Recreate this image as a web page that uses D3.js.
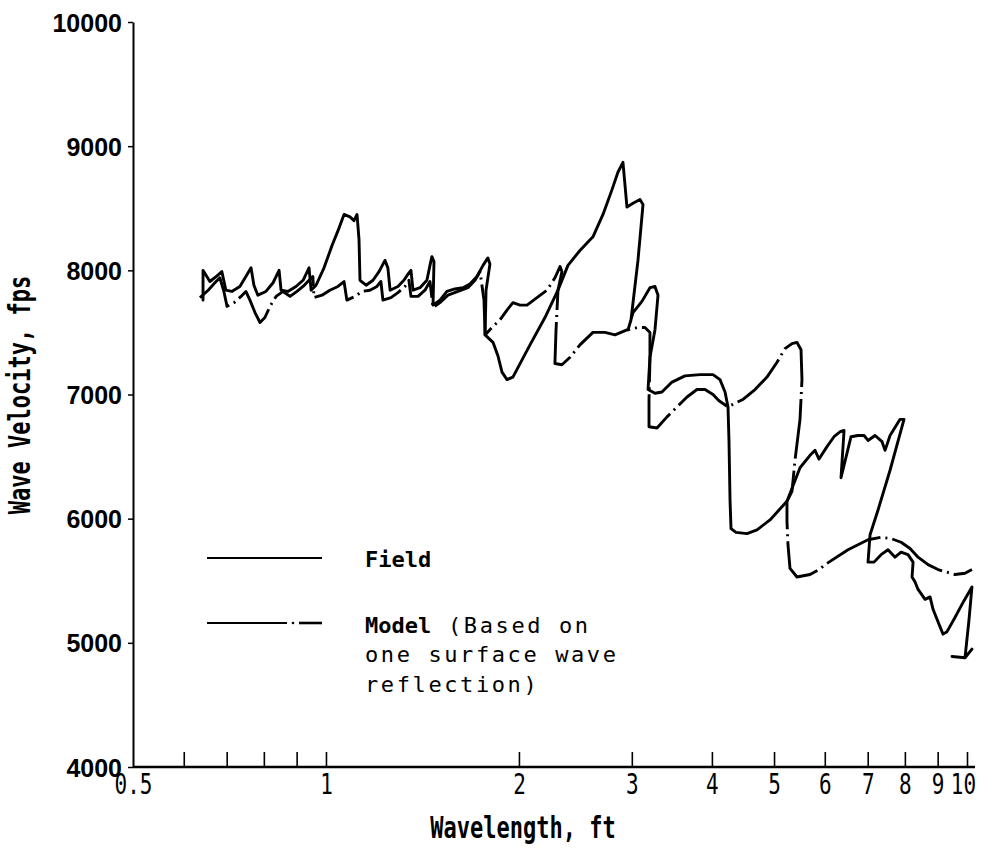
<!DOCTYPE html>
<html>
<head>
<meta charset="utf-8">
<script src="https://cdn.jsdelivr.net/npm/d3@7"></script>
<style>
  html, body { margin: 0; padding: 0; background: #fff; }
  svg { display: block; }
</style>
</head>
<body>
<svg id="chart" width="988" height="849"></svg>
<script>
// ---------------- data ----------------
const xTickValues = [0.5, 0.6, 0.7, 0.8, 0.9, 1, 2, 3, 4, 5, 6, 7, 8, 9, 10];
const xTickLabels = ["0.5", "", "", "", "", "1", "2", "3", "4", "5", "6", "7", "8", "9", "10"];
const yTickValues = [4000, 5000, 6000, 7000, 8000, 9000, 10000];
const yTickLabels = ["4000", "5000", "6000", "7000", "8000", "9000", "10000"];
const seriesNames = ["Field", "Model"];

// Field (solid) : [wavelength ft, velocity fps] in drawing order
const field = [
  [0.643,7760],[0.643,8000],[0.659,7910],[0.674,7950],[0.688,7990],[0.698,7840],[0.713,7830],
  [0.734,7870],[0.750,7950],[0.764,8020],[0.772,7880],[0.783,7800],[0.806,7830],[0.827,7900],
  [0.845,8000],[0.851,7840],[0.872,7830],[0.898,7870],[0.921,7920],[0.941,8020],[0.948,7840],
  [0.965,7880],[0.993,8020],[1.022,8200],[1.048,8340],[1.067,8450],[1.090,8430],[1.106,8400],
  [1.118,8450],[1.126,8250],[1.130,7920],[1.155,7880],[1.184,7920],[1.210,7990],[1.236,8080],
  [1.249,8020],[1.259,7840],[1.295,7870],[1.323,7920],[1.347,7980],[1.357,8000],[1.367,7840],
  [1.402,7860],[1.437,7920],[1.453,8040],[1.463,8110],[1.474,8070],[1.469,7720],[1.506,7760],
  [1.544,7830],[1.589,7850],[1.636,7860],[1.677,7890],[1.720,7950],[1.758,8040],[1.789,8100],
  [1.802,8050],[1.777,7840],[1.771,7480],[1.822,7420],[1.855,7310],[1.882,7180],[1.916,7120],
  [1.957,7140],[2.081,7400],[2.196,7620],[2.301,7840],[2.385,8040],[2.490,8160],[2.609,8270],
  [2.705,8450],[2.794,8650],[2.854,8790],[2.906,8870],[2.927,8690],[2.948,8510],[3.013,8540],
  [3.089,8570],[3.123,8530],[3.067,8080],[2.991,7600],[2.959,7520],[3.013,7660],[3.111,7750],
  [3.202,7860],[3.260,7870],[3.296,7800],[3.260,7520],[3.202,7300],[3.180,7040],[3.260,7010],
  [3.343,7020],[3.466,7100],[3.631,7150],[3.833,7160],[4.016,7160],[4.118,7120],[4.193,7020],
  [4.238,6900],[4.253,6630],[4.269,6150],[4.284,5920],[4.362,5890],[4.538,5880],[4.704,5910],
  [4.928,5990],[5.238,6140],[5.489,6410],[5.690,6510],[5.793,6550],[5.877,6480],[6.048,6580],
  [6.202,6660],[6.339,6700],[6.430,6710],[6.360,6330],[6.593,6660],[6.761,6670],[6.908,6670],
  [7.008,6630],[7.187,6670],[7.370,6620],[7.450,6550],[7.585,6670],[7.862,6800],[7.975,6800],
  [7.585,6390],[7.265,6070],[7.059,5870],[7.008,5650],[7.161,5650],[7.344,5710],[7.530,5750],
  [7.722,5690],[7.891,5730],[8.091,5710],[8.239,5650],[8.209,5530],[8.298,5490],[8.388,5430],
  [8.602,5350],[8.757,5370],[8.852,5270],[9.011,5170],[9.175,5070],[9.307,5090],[9.544,5190],
  [9.822,5310],[10.18,5450],[10.07,5180],[9.929,4880],[9.477,4890],[9.929,4880],[10.18,4950]
];

// Model (dash-dot) : [wavelength ft, velocity fps] in drawing order
const model = [
  [0.636,7780],[0.655,7840],[0.671,7900],[0.683,7940],[0.693,7830],[0.701,7710],[0.719,7740],
  [0.737,7790],[0.750,7830],[0.761,7760],[0.775,7660],[0.789,7580],[0.803,7620],[0.818,7710],
  [0.836,7790],[0.857,7830],[0.879,7790],[0.901,7830],[0.921,7870],[0.941,7920],[0.954,7950],
  [0.958,7780],[0.986,7800],[1.014,7840],[1.044,7870],[1.067,7910],[1.078,7760],[1.110,7790],
  [1.138,7830],[1.171,7840],[1.201,7870],[1.218,7910],[1.227,7760],[1.263,7780],[1.295,7820],
  [1.328,7870],[1.347,7920],[1.357,7790],[1.392,7790],[1.427,7840],[1.453,7910],[1.469,7700],
  [1.506,7740],[1.550,7800],[1.607,7830],[1.665,7860],[1.708,7920],[1.739,7990],[1.764,7760],
  [1.771,7480],[1.815,7540],[1.868,7600],[1.916,7680],[1.957,7740],[2.008,7720],[2.059,7720],
  [2.134,7780],[2.212,7840],[2.276,7940],[2.318,8030],[2.334,7990],[2.301,7840],[2.285,7520],
  [2.276,7250],[2.334,7240],[2.403,7300],[2.490,7400],[2.609,7500],[2.724,7500],[2.824,7480],
  [2.948,7520],[3.067,7540],[3.145,7540],[3.202,7500],[3.202,7280],[3.191,6960],[3.191,6740],
  [3.284,6730],[3.404,6820],[3.529,6900],[3.658,6980],[3.791,7040],[3.902,7040],[4.016,7000],
  [4.103,6950],[4.238,6900],[4.346,6930],[4.473,6960],[4.670,7040],[4.875,7140],[5.054,7260],
  [5.201,7370],[5.333,7410],[5.430,7420],[5.509,7360],[5.528,7120],[5.489,6800],[5.391,6470],
  [5.333,6220],[5.238,6140],[5.238,5980],[5.257,5790],[5.295,5600],[5.430,5530],[5.690,5550],
  [5.877,5590],[6.048,5640],[6.522,5750],[7.008,5830],[7.344,5850],[7.612,5840],[7.891,5810],
  [8.150,5760],[8.388,5690],[8.695,5630],[9.011,5590],[9.579,5550],[9.929,5560],[10.18,5590]
];

// ---------------- chart ----------------
const svg = d3.select("#chart");
const x = d3.scaleLog().domain([0.5, 10]).range([133, 967]);
const y = d3.scaleLinear().domain([4000, 10000]).range([767, 22]);

const monoBold = "'DejaVu Sans Mono', 'Liberation Mono', monospace";
const stretch = 1.35;

// X axis
const xAxis = d3.axisBottom(x)
  .tickValues(xTickValues)
  .tickFormat((d, i) => xTickLabels[i])
  .tickSizeInner(-15)
  .tickSizeOuter(0)
  .tickPadding(0);
const gx = svg.append("g").attr("transform", "translate(0,767)").call(xAxis);
gx.select(".domain").remove();
gx.append("line").attr("x1", 133).attr("x2", 975).attr("y1", 0).attr("y2", 0)
  .attr("stroke", "#000").attr("stroke-width", 2.5);
gx.selectAll(".tick line").attr("stroke", "#000").attr("stroke-width", 1.6);
gx.selectAll(".tick text")
  .attr("fill", "#000")
  .attr("font-family", monoBold)
  .attr("font-size", 21)
  .attr("dy", null)
  .attr("y", 27 / stretch)
  .attr("transform", `scale(1,${stretch})`)
  .attr("text-anchor", "middle");
gx.selectAll(".tick").filter(d => d === 10).select("text").attr("dx", -4);
gx.selectAll(".tick").filter(d => d === 0.5).select("line").remove();

// Y axis
const yAxis = d3.axisLeft(y)
  .tickValues(yTickValues)
  .tickFormat((d, i) => yTickLabels[i])
  .tickSizeInner(5)
  .tickSizeOuter(0)
  .tickPadding(8);
const gy = svg.append("g").attr("transform", "translate(133,0)").call(yAxis);
gy.select(".domain").attr("stroke", "#000").attr("stroke-width", 2);
gy.selectAll(".tick line").attr("stroke", "#000").attr("stroke-width", 1.5);
gy.selectAll(".tick text")
  .attr("fill", "#000")
  .attr("font-family", "'Liberation Sans', Arial, sans-serif")
  .attr("font-weight", "bold")
  .attr("font-size", 25)
  .attr("x", -11)
  .attr("dy", "0.36em");

// Axis titles
svg.append("text")
  .attr("transform", `translate(523,838) scale(1,${stretch})`)
  .attr("text-anchor", "middle")
  .attr("font-family", monoBold)
  .attr("font-weight", "bold")
  .attr("font-size", 22)
  .text("Wavelength, ft");

svg.append("text")
  .attr("transform", `translate(30,395) rotate(-90) scale(1,${stretch})`)
  .attr("text-anchor", "middle")
  .attr("font-family", monoBold)
  .attr("font-weight", "bold")
  .attr("font-size", 22)
  .text("Wave Velocity, fps");

// Lines
const line = d3.line().x(d => x(d[0])).y(d => y(d[1])).curve(d3.curveLinear);
const dashModel = "60,5,2,5";

svg.append("path").datum(field)
  .attr("d", line)
  .attr("fill", "none").attr("stroke", "#000").attr("stroke-width", 2.9)
  .attr("stroke-linejoin", "round").attr("stroke-linecap", "round");

svg.append("path").datum(model)
  .attr("d", line)
  .attr("fill", "none").attr("stroke", "#000").attr("stroke-width", 2.9)
  .attr("stroke-dasharray", dashModel)
  .attr("stroke-linejoin", "round");

// Legend
const lg = svg.append("g");
lg.append("line").attr("x1", 207).attr("x2", 322).attr("y1", 558).attr("y2", 558)
  .attr("stroke", "#000").attr("stroke-width", 2.2);
lg.append("line").attr("x1", 207).attr("x2", 287).attr("y1", 623).attr("y2", 623)
  .attr("stroke", "#000").attr("stroke-width", 2.2);
lg.append("circle").attr("cx", 293).attr("cy", 623).attr("r", 1.3).attr("fill", "#000");
lg.append("line").attr("x1", 299).attr("x2", 322).attr("y1", 623).attr("y2", 623)
  .attr("stroke", "#000").attr("stroke-width", 2.6);

lg.append("text").attr("x", 365).attr("y", 567)
  .attr("font-family", monoBold).attr("font-size", 22).attr("font-weight", "bold")
  .text(seriesNames[0]);
lg.append("text").attr("x", 365).attr("y", 633)
  .attr("font-family", monoBold).attr("font-size", 22).attr("font-weight", "bold")
  .text(seriesNames[1]);
const note = ["(Based on", "one surface wave", "reflection)"];
lg.append("text").attr("x", 448).attr("y", 633)
  .attr("font-family", "'DejaVu Sans Mono', monospace").attr("font-size", 22)
  .attr("letter-spacing", 2.6).text(note[0]);
lg.append("text").attr("x", 365).attr("y", 662)
  .attr("font-family", "'DejaVu Sans Mono', monospace").attr("font-size", 22)
  .attr("letter-spacing", 2.6).text(note[1]);
lg.append("text").attr("x", 365).attr("y", 692)
  .attr("font-family", "'DejaVu Sans Mono', monospace").attr("font-size", 22)
  .attr("letter-spacing", 2.6).text(note[2]);
</script>
</body>
</html>
